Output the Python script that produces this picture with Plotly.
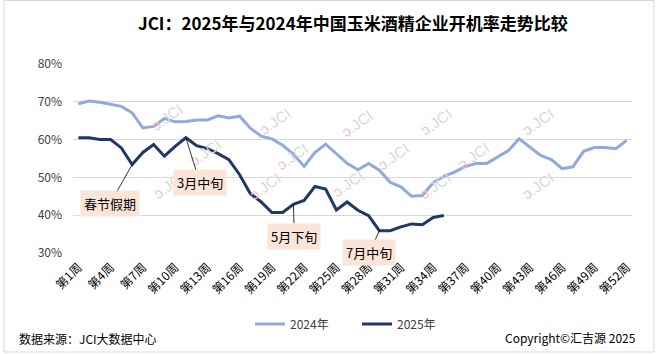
import plotly.graph_objects as go

weeks = [f"第{i}周" for i in range(1, 53)]
rate_2024 = [69.5, 70.2, 69.9, 69.3, 68.8, 67.1, 63.1, 63.5, 65.6, 64.7,
             64.8, 65.2, 65.2, 66.3, 65.7, 66.2, 63.0, 60.9, 60.2, 58.5,
             56.2, 52.9, 56.6, 58.8, 56.2, 53.7, 52.0, 53.7, 51.9, 48.7,
             47.5, 45.0, 45.2, 48.6, 50.3, 51.4, 52.9, 53.7, 53.7, 55.4,
             57.1, 60.2, 58.0, 55.8, 54.7, 52.3, 52.8, 56.9, 57.9, 57.9,
             57.6, 59.8]
rate_2025 = [60.5, 60.5, 60.0, 60.0, 57.8, 53.4, 56.6, 58.7, 55.6, 58.2,
             60.5, 58.4, 57.6, 56.3, 54.7, 50.7, 45.7, 43.5, 40.7, 40.7,
             42.9, 43.9, 47.6, 46.9, 41.4, 43.5, 41.3, 39.9, 35.9, 35.9,
             36.9, 37.7, 37.5, 39.4, 39.9]
y_ticks = [30, 40, 50, 60, 70, 80]
y_tick_text = ["30%", "40%", "50%", "60%", "70%", "80%"]
tick_weeks = weeks[::3]

# annotation definitions: (label, week index, series value, ax, ay)
notes = [("春节假期", 5, rate_2025[5], -22, 39),
         ("3月中旬", 10, rate_2025[10], 14, 45),
         ("5月下旬", 20, rate_2025[20], 1, 32),
         ("7月中旬", 28, rate_2025[28], -10, 22)]

FONT = "Noto Sans CJK SC"
L, R, T, B = 73, 26, 64, 101
W, H = 658, 354
pw, ph = W - L - R, H - T - B


def px(x):
    return (x - L) / pw


def py(y):
    return (H - B - y) / ph


fig = go.Figure()
fig.add_trace(go.Scatter(x=weeks, y=rate_2024, mode="lines", name="2024年",
                         line=dict(color="#8FAADC", width=3)))
fig.add_trace(go.Scatter(x=weeks[:len(rate_2025)], y=rate_2025, mode="lines",
                         name="2025年", line=dict(color="#203864", width=3)))

annotations = []
# watermarks
wm_pos = [(145, 98), (253, 102), (357, 104), (458, 102), (560, 102),
          (183, 152), (292, 156), (393, 156), (495, 155),
          (147, 205), (243, 206), (348, 203), (457, 205), (560, 205)]
for (wx, wy) in wm_pos:
    annotations.append(dict(
        x=px(wx), y=py(wy), xref="paper", yref="paper", showarrow=False,
        text='<span style="color:#f8c0c0">ↄ</span>.JCI', textangle=-35,
        font=dict(family="Arial", size=15, color="#d9d9d9")))

for (lab, idx, val, ax, ay) in notes:
    annotations.append(dict(
        x=weeks[idx], y=val, xref="x", yref="y", text=lab, showarrow=True,
        arrowhead=0, arrowwidth=0.8, arrowcolor="#000000", ax=ax, ay=ay,
        bgcolor="#FBE5D6", borderpad=3,
        font=dict(family=FONT, size=13, color="#000000")))

annotations.append(dict(
    x=0.5, y=py(23), xref="paper", yref="paper", showarrow=False,
    text="<b>JCI：2025年与2024年中国玉米酒精企业开机率走势比较</b>",
    font=dict(family=FONT, size=17, color="#000000"), yanchor="middle"))
annotations.append(dict(
    x=px(17), y=py(338), xref="paper", yref="paper", showarrow=False,
    xanchor="left", yanchor="middle", text="数据来源：JCI大数据中心",
    font=dict(family=FONT, size=12, color="#000000")))
annotations.append(dict(
    x=px(638), y=py(337), xref="paper", yref="paper", showarrow=False,
    xanchor="right", yanchor="middle", text="Copyright©汇吉源 2025",
    font=dict(family=FONT, size=12, color="#000000")))

shapes = [dict(type="rect", xref="paper", yref="paper",
               x0=px(4), x1=px(654), y0=py(352), y1=py(0.5),
               line=dict(color="#D9D9D9", width=1))]

fig.update_layout(
    width=W, height=H, margin=dict(l=L, r=R, t=T, b=B),
    paper_bgcolor="white", plot_bgcolor="white",
    font=dict(family=FONT, size=12, color="#404040"),
    showlegend=True,
    legend=dict(orientation="h", x=px(250), y=py(324), xanchor="left",
                yanchor="middle", entrywidth=62, entrywidthmode="pixels",
                font=dict(family=FONT, size=12, color="#404040"),
                bgcolor="rgba(0,0,0,0)"),
    annotations=annotations, shapes=shapes,
)
fig.update_xaxes(type="category", categoryorder="array", categoryarray=weeks,
                 range=[-0.5, 51.5], tickvals=tick_weeks, ticktext=tick_weeks,
                 tickangle=-45, showgrid=False, showline=False, ticks="",
                 ticklabelstandoff=4,
                 tickfont=dict(family=FONT, size=12, color="#000000"))
fig.update_yaxes(range=[30, 80], tickvals=y_ticks, ticktext=y_tick_text,
                 showgrid=True, gridcolor="#D9D9D9", gridwidth=1,
                 zeroline=False, showline=False, ticks="",
                 ticklabelstandoff=10,
                 tickfont=dict(family=FONT, size=12, color="#404040"))

fig.write_html("out.html")
